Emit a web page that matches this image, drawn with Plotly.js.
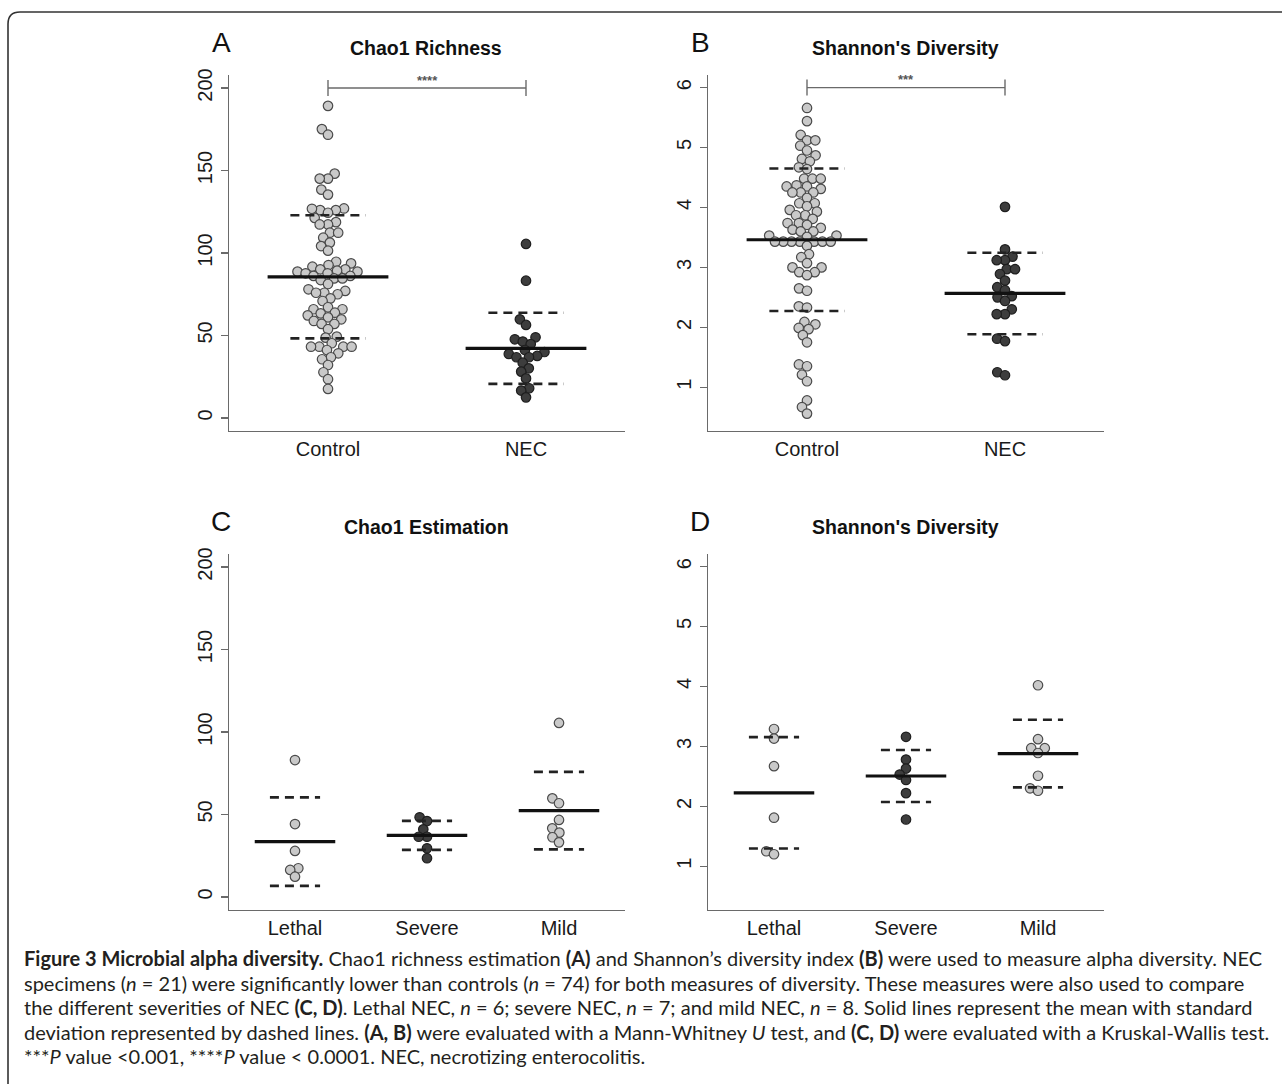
<!DOCTYPE html>
<html>
<head>
<meta charset="utf-8">
<script src="https://cdn.plot.ly/plotly-3.0.1.min.js"></script>
<style>html,body{margin:0;padding:0;background:#fff;}#chart{width:1282px;height:1084px;}</style>
</head>
<body>
<div id="chart"></div>
<script>
// ---------------- DATA ----------------
const groupsAB = ['Control', 'NEC'];
const groupsCD = ['Lethal', 'Severe', 'Mild'];

const chaoControl = [189.2,175.1,171.7,148.1,145.1,145.1,138.4,135.4,127,126,126,126.8,124.4,121.3,118.7,117.3,117.3,112.3,112.3,109.3,106.3,104.2,101.4,94.7,93.7,92.7,91.7,90.1,90.1,89.3,88.7,88.7,87.7,87.7,86.1,86.1,84.6,84.6,83.6,81.2,78,77,75.9,75.9,75,72.5,70.9,67.1,65.9,65.9,63.8,63.4,62.2,61,59.8,58.8,57,57,53.8,49.3,48.7,45.3,43.2,43.2,43.2,43.2,41.2,39.2,36.8,35.6,32.1,27.7,23.5,17.6];
const chaoNEC = [105.5,83.2,59.8,56.4,48.9,47.7,46.3,44.8,41.2,40,38.8,37.6,36.8,36.8,33.5,30.1,28.1,24,18,16.6,12.5];

const shannonControl = [5.66,5.44,5.21,5.12,5.12,5.03,4.95,4.87,4.81,4.77,4.67,4.64,4.48,4.48,4.48,4.37,4.35,4.35,4.31,4.25,4.25,4.25,4.16,4.07,4.07,4.02,3.96,3.93,3.87,3.87,3.81,3.74,3.74,3.71,3.66,3.63,3.60,3.60,3.53,3.53,3.51,3.43,3.43,3.43,3.43,3.43,3.43,3.43,3.36,3.22,3.17,3.07,3.0,3.0,2.92,2.92,2.87,2.65,2.61,2.35,2.33,2.09,2.05,1.99,1.97,1.87,1.75,1.38,1.35,1.21,1.10,0.78,0.67,0.56];
const shannonNEC = [4.01,3.30,3.18,3.12,3.12,2.97,2.97,2.89,2.78,2.67,2.62,2.52,2.50,2.44,2.30,2.22,2.22,1.81,1.77,1.25,1.20];

const chaoLethal = [83,44.2,27.9,17.4,16.4,12.3];
const chaoSevere = [48.3,46,41,36.5,36.5,29.5,23.5];
const chaoMild   = [105.5,59.8,56.8,46.7,41.6,39,36.2,33.1];

const shanLethal = [3.29,3.13,2.67,1.81,1.25,1.20];
const shanSevere = [3.16,2.78,2.63,2.53,2.44,2.22,1.78];
const shanMild   = [4.02,3.12,2.97,2.97,2.89,2.51,2.30,2.26];

const chaoTicks = [0, 50, 100, 150, 200];
const shanTicks = [1, 2, 3, 4, 5, 6];

const panelTitles  = ['Chao1 Richness', "Shannon's Diversity", 'Chao1 Estimation', "Shannon's Diversity"];
const panelLetters = ['A', 'B', 'C', 'D'];
const sigLevels = [200, 6];          // bracket heights for A and B
const sigStars  = ['****', '***'];

const captionLines = [
  "<b>Figure 3 Microbial alpha diversity.</b> Chao1 richness estimation <b>(A)</b> and Shannon\u2019s diversity index <b>(B)</b> were used to measure alpha diversity. NEC",
  "specimens (<i>n</i> = 21) were significantly lower than controls (<i>n</i> = 74) for both measures of diversity. These measures were also used to compare",
  "the different severities of NEC <b>(C, D)</b>. Lethal NEC, <i>n</i> = 6; severe NEC, <i>n</i> = 7; and mild NEC, <i>n</i> = 8. Solid lines represent the mean with standard",
  "deviation represented by dashed lines. <b>(A, B)</b> were evaluated with a Mann-Whitney <i>U</i> test, and <b>(C, D)</b> were evaluated with a Kruskal-Wallis test.",
  "***<i>P</i> value &lt;0.001, ****<i>P</i> value &lt; 0.0001. NEC, necrotizing enterocolitis."
];

// ---------------- LAYOUT HELPERS ----------------
const W = 1282, H = 1084;
const px = x => x / W;
const py = y => 1 - y / H;

const LIGHT = '#c9c9c9', DARK = '#3d3d3d';
const panels = [
  {ax: '',  x0: 229, x1: 625,  y0: 75,  y1: 431, yr: [-7.9, 207.9], xr: [-0.5, 1.5], ticks: chaoTicks, cats: groupsAB, groups: [chaoControl, chaoNEC], fills: [LIGHT, DARK]},
  {ax: '2', x0: 708, x1: 1104, y0: 75,  y1: 431, yr: [0.27, 6.21],  xr: [-0.5, 1.5], ticks: shanTicks, cats: groupsAB, groups: [shannonControl, shannonNEC], fills: [LIGHT, DARK]},
  {ax: '3', x0: 229, x1: 625,  y0: 554, y1: 910, yr: [-7.9, 207.9], xr: [-0.5, 2.5], ticks: chaoTicks, cats: groupsCD, groups: [chaoLethal, chaoSevere, chaoMild], fills: [LIGHT, DARK, LIGHT]},
  {ax: '4', x0: 708, x1: 1104, y0: 554, y1: 910, yr: [0.27, 6.21],  xr: [-0.5, 2.5], ticks: shanTicks, cats: groupsCD, groups: [shanLethal, shanSevere, shanMild], fills: [LIGHT, DARK, LIGHT]}
];

// beeswarm layout (pixel space), returns x offsets in data units
function swarm(vals, pxPerX, pxPerY, D) {
  const idx = vals.map((v, i) => i).sort((a, b) => vals[a] - vals[b]);
  const placed = [];
  const out = new Array(vals.length).fill(0);
  idx.forEach(i => {
    const y = vals[i] * pxPerY;
    const cands = [0];
    placed.forEach(p => {
      const dy = Math.abs(p.y - y);
      if (dy < D) {
        const dx = Math.sqrt(D * D - dy * dy);
        cands.push(p.x + dx, p.x - dx);
      }
    });
    const ok = cands.filter(c => placed.every(p => Math.hypot(p.x - c, p.y - y) >= D - 1e-6));
    ok.sort((a, b) => Math.abs(a) - Math.abs(b) || a - b);
    const x = ok[0];
    placed.push({x: x, y: y});
    out[i] = x / pxPerX;
  });
  return out;
}
const mean = a => a.reduce((s, v) => s + v, 0) / a.length;
const sd = a => { const m = mean(a); return Math.sqrt(a.reduce((s, v) => s + (v - m) * (v - m), 0) / (a.length - 1)); };

const traces = [];
const layout = {
  width: W, height: H,
  margin: {l: 0, r: 0, t: 0, b: 0},
  paper_bgcolor: '#fff', plot_bgcolor: '#fff',
  showlegend: false,
  font: {family: 'Liberation Sans, Arial, sans-serif', color: '#222'},
  annotations: [], shapes: []
};

panels.forEach((P, k) => {
  const xa = 'x' + P.ax, ya = 'y' + P.ax;
  const pxPerX = (P.x1 - P.x0) / (P.xr[1] - P.xr[0]);
  const pxPerY = (P.y1 - P.y0) / (P.yr[1] - P.yr[0]);
  layout['xaxis' + P.ax] = {
    domain: [px(P.x0), px(P.x1)], range: P.xr, anchor: ya,
    showline: true, linecolor: '#6a6a6a', linewidth: 1.3, mirror: false,
    showgrid: false, zeroline: false, ticks: '',
    tickvals: P.cats.map((c, i) => i), ticktext: P.cats,
    tickfont: {size: 20, color: '#1a1a1a', family: 'Liberation Sans, Arial, sans-serif'},
    ticklabelstandoff: 0, fixedrange: true
  };
  layout['yaxis' + P.ax] = {
    domain: [py(P.y1), py(P.y0)], range: P.yr, anchor: xa,
    showline: true, linecolor: '#6a6a6a', linewidth: 1.3,
    showgrid: false, zeroline: false,
    ticks: 'outside', ticklen: 7, tickwidth: 1.2, tickcolor: '#6a6a6a',
    tickvals: P.ticks, tickangle: -90,
    tickfont: {size: 20, color: '#1a1a1a', family: 'Liberation Sans, Arial, sans-serif'},
    ticklabelstandoff: 1, fixedrange: true
  };
  P.groups.forEach((vals, g) => {
    const offs = swarm(vals, pxPerX, pxPerY, 8.3);
    traces.push({
      type: 'scatter', mode: 'markers', xaxis: xa, yaxis: ya,
      x: vals.map((v, i) => g + offs[i]), y: vals,
      marker: {size: 9.5, color: P.fills[g], line: {color: P.fills[g] === LIGHT ? '#4a4a4a' : '#1e1e1e', width: 1.2}},
      hoverinfo: 'skip'
    });
  });
  P.groups.forEach((vals, g) => {
    const m = mean(vals), s = sd(vals);
    traces.push({type: 'scatter', mode: 'lines', xaxis: xa, yaxis: ya,
      x: [g - 0.305, g + 0.305], y: [m, m], line: {color: '#111', width: 3.2}, hoverinfo: 'skip'});
    traces.push({type: 'scatter', mode: 'lines', xaxis: xa, yaxis: ya,
      x: [g - 0.19, g + 0.19, null, g - 0.19, g + 0.19], y: [m + s, m + s, null, m - s, m - s],
      line: {color: '#222', width: 2.6, dash: '9px,6px'}, hoverinfo: 'skip'});
  });
  // significance brackets for A and B
  if (k < 2) {
    const lev = sigLevels[k];
    const h = 8 / pxPerY;
    traces.push({type: 'scatter', mode: 'lines', xaxis: xa, yaxis: ya,
      x: [0, 0, null, 0, 1, null, 1, 1], y: [lev - h, lev + h, null, lev, lev, null, lev - h, lev + h],
      line: {color: '#6a6a6a', width: 1.4}, hoverinfo: 'skip'});
    layout.annotations.push({xref: xa, yref: ya, x: 0.5, y: lev, yshift: 8, text: '<b>' + sigStars[k] + '</b>',
      showarrow: false, font: {size: 13, color: '#555'}, xanchor: 'center', yanchor: 'middle'});
  }
  // panel titles and letters
  const titleY = k < 2 ? 48 : 527;
  const letterY = k < 2 ? 42 : 521;
  layout.annotations.push({xref: 'paper', yref: 'paper', x: px((P.x0 + P.x1) / 2 - 1), y: py(titleY),
    text: '<b>' + panelTitles[k] + '</b>', showarrow: false, xanchor: 'center', yanchor: 'middle',
    font: {size: 19.5, color: '#111'}});
  layout.annotations.push({xref: 'paper', yref: 'paper', x: px(P.x0 - 8), y: py(letterY),
    text: panelLetters[k], showarrow: false, xanchor: 'center', yanchor: 'middle',
    font: {size: 28, color: '#111'}});
});

// caption
captionLines.forEach((t, i) => {
  layout.annotations.push({xref: 'paper', yref: 'paper', x: px(22), y: py(958 + i * 24.5),
    text: t, showarrow: false, xanchor: 'left', yanchor: 'middle', align: 'left',
    font: {size: 20, color: '#231f20', family: 'Lato, Open Sans, sans-serif'}});
});

// frame
layout.shapes.push({type: 'path', xref: 'paper', yref: 'paper',
  path: `M ${px(8)},${py(1120)} L ${px(8)},${py(24)} Q ${px(8)},${py(12)} ${px(20)},${py(12)} L ${px(1320)},${py(12)}`,
  line: {color: '#333', width: 1.6}});

Plotly.newPlot('chart', traces, layout, {displayModeBar: false, staticPlot: true});
</script>
</body>
</html>
